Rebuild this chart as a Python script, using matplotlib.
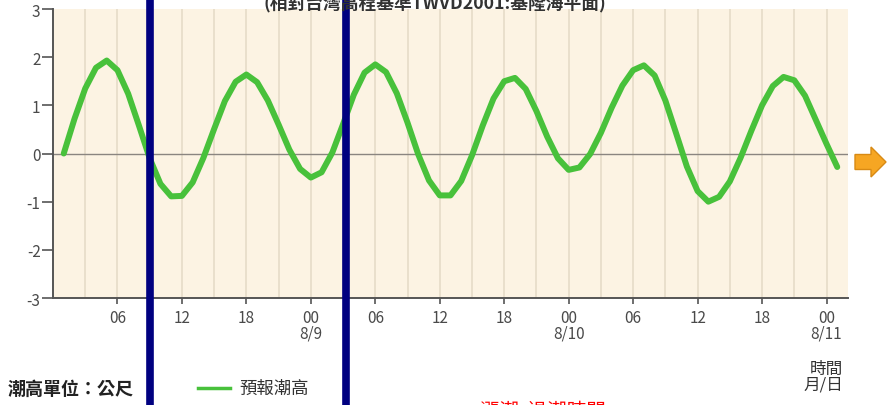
import matplotlib
matplotlib.use("Agg")
import matplotlib.pyplot as plt
from matplotlib.patches import FancyArrow
from matplotlib.lines import Line2D

plt.rcParams['font.family'] = ['Noto Sans CJK TC', 'DejaVu Sans']

# hours since 8/8 00:00
hours = list(range(1, 74))
tide = [0.00, 0.72, 1.35, 1.78, 1.93, 1.73, 1.24, 0.58, -0.10, -0.63,
        -0.89, -0.88, -0.60, -0.09, 0.51, 1.09, 1.49, 1.64, 1.48, 1.10,
        0.60, 0.08, -0.32, -0.50, -0.39, 0.02, 0.61, 1.22, 1.68, 1.85,
        1.69, 1.25, 0.64, -0.02, -0.56, -0.87, -0.87, -0.57, -0.04, 0.58,
        1.14, 1.50, 1.57, 1.34, 0.88, 0.35, -0.10, -0.34, -0.29, -0.01,
        0.43, 0.95, 1.41, 1.73, 1.83, 1.62, 1.10, 0.42, -0.27, -0.78,
        -1.00, -0.90, -0.58, -0.09, 0.47, 1.00, 1.40, 1.59, 1.52, 1.20,
        0.70, 0.20, -0.28]

tick_hours = [6, 12, 18, 24, 30, 36, 42, 48, 54, 60, 66, 72]
tick_labels = ["06", "12", "18", "00\n8/9", "06", "12", "18", "00\n8/10",
               "06", "12", "18", "00\n8/11"]
grid_hours = list(range(3, 73, 3))
y_ticks = [-3, -2, -1, 0, 1, 2, 3]

W, H = 889, 406
fig = plt.figure(figsize=(W / 100, H / 100), dpi=100)
ax = fig.add_axes([53 / W, 1 - 299 / H, (848 - 53) / W, (299 - 10) / H])
ax.set_facecolor('#FCF3E3')

for g in grid_hours:
    ax.axvline(g, color='#E8DDCA', lw=1.3, zorder=1)
ax.axhline(0, color='#8A8580', lw=1.0, zorder=2)

ax.plot(hours, tide, color='#48C13B', lw=4.3, solid_joinstyle='round',
        solid_capstyle='round', zorder=3)

ax.set_xlim(0, 74)
ax.set_ylim(-3, 3)
ax.set_xticks(tick_hours)
ax.set_xticklabels(tick_labels, linespacing=0.9)
ax.set_yticks(y_ticks)
ax.set_yticklabels([str(v) for v in y_ticks])
ax.tick_params(axis='both', colors='#555555', labelcolor='#4A4A4A', labelsize=11,
               direction='out', width=1.2)
ax.tick_params(axis='x', length=4, pad=4)
ax.tick_params(axis='y', length=8, pad=1)
for s in ['top', 'right']:
    ax.spines[s].set_visible(False)
for s in ['left', 'bottom']:
    ax.spines[s].set_color('#555555')
    ax.spines[s].set_linewidth(1.4)

# title, cut at the top as in the source
fig.text(435 / W, 1 - 3 / H, "(相對台灣高程基準TWVD2001:基隆海平面)",
         ha='center', va='center', fontsize=12.8, fontweight='bold', color='#333333')

# bottom labels
fig.text(8 / W, 1 - 389 / H, "潮高單位：公尺", ha='left', va='center',
         fontsize=13, fontweight='bold', color='#222222')
fig.add_artist(Line2D([198 / W, 230 / W], [1 - 389 / H, 1 - 389 / H],
                      color='#48C13B', lw=2.5))
fig.text(239 / W, 1 - 389 / H, "預報潮高", ha='left', va='center',
         fontsize=12.5, color='#333333')
fig.text(843 / W, 1 - 377 / H, "時間\n月/日", ha='right', va='center',
         fontsize=12, color='#333333', linespacing=0.9)

# annotation overlays
for xb in [150, 346]:
    fig.add_artist(Line2D([xb / W, xb / W], [0, 1], color='#000080', lw=5.5))

fig.add_artist(FancyArrow(855 / W, 1 - 163 / H, 31 / W, 0, width=15 / H,
                          head_width=30 / H, head_length=15 / W,
                          length_includes_head=True, transform=fig.transFigure,
                          facecolor='#F6A623', edgecolor='#D88A14', lw=1))

fig.text(480 / W, 1 - 401 / H, "漲潮  退潮時間", ha='left', va='top',
         fontsize=14, color='#FF0000')

fig.savefig('out.png', dpi=100)
